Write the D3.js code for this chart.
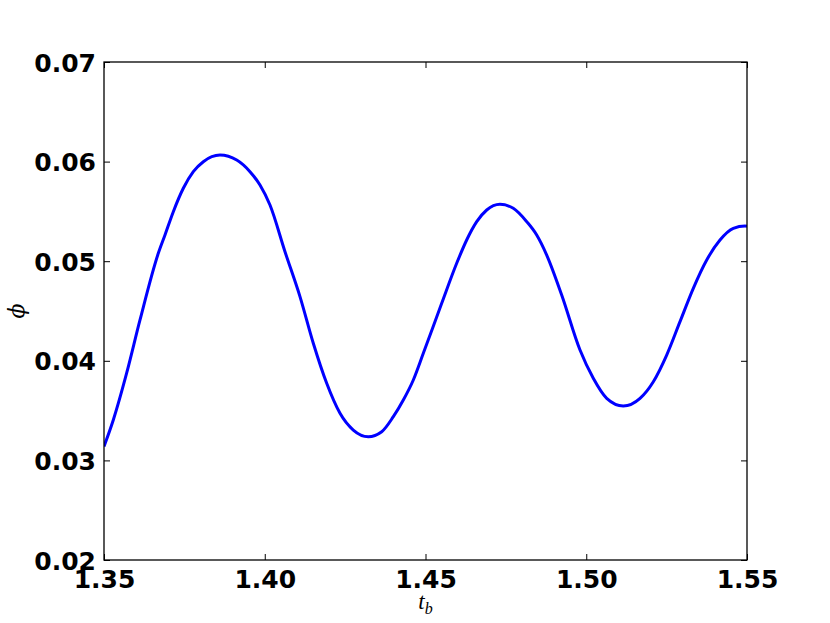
<!DOCTYPE html>
<html>
<head>
<meta charset="utf-8">
<script src="https://cdn.jsdelivr.net/npm/d3@7"></script>
<style>
  html, body { margin: 0; padding: 0; background: #fff; }
  svg { display: block; }
</style>
</head>
<body>
<svg id="chart" width="830" height="623"></svg>
<script>
// Data
const tValues = [1.35000, 1.35289, 1.35706, 1.36120, 1.36689, 1.36897, 1.37156, 1.37467, 1.37778, 1.38089,
  1.38608, 1.39128, 1.39541, 1.39852, 1.40163, 1.40630, 1.41096, 1.41510, 1.41927, 1.42341,
  1.42754, 1.43221, 1.43638, 1.43999, 1.44310, 1.44621, 1.44932, 1.45504, 1.45970, 1.46281,
  1.46593, 1.46904, 1.47317, 1.47731, 1.48148, 1.48459, 1.48770, 1.49236, 1.49806, 1.50219,
  1.50636, 1.51152, 1.51672, 1.52086, 1.52502, 1.52916, 1.53330, 1.53747, 1.54160, 1.54574,
  1.54938, 1.55000];
const phiValues = [0.03140, 0.03406, 0.03878, 0.04410, 0.05079, 0.05263, 0.05497, 0.05732, 0.05899, 0.05999,
  0.06066, 0.06016, 0.05899, 0.05765, 0.05564, 0.05095, 0.04644, 0.04176, 0.03774, 0.03473,
  0.03305, 0.03238, 0.03288, 0.03439, 0.03606, 0.03807, 0.04075, 0.04577, 0.04979, 0.05213,
  0.05397, 0.05514, 0.05571, 0.05531, 0.05397, 0.05263, 0.05062, 0.04661, 0.04108, 0.03824,
  0.03623, 0.03546, 0.03623, 0.03790, 0.04058, 0.04393, 0.04728, 0.05012, 0.05213, 0.05330,
  0.05353, 0.05350];
const xTicks = [1.35, 1.40, 1.45, 1.50, 1.55];
const yTicks = [0.02, 0.03, 0.04, 0.05, 0.06, 0.07];

const svg = d3.select("#chart");
const mLeft = 104, mRight = 747, mTop = 62, mBottom = 560;

const x = d3.scaleLinear().domain([1.35, 1.55]).range([mLeft, mRight]);
const y = d3.scaleLinear().domain([0.02, 0.07]).range([mBottom, mTop]);

const fontFam = "'DejaVu Sans', sans-serif";

// Curve
const pts = tValues.map((t, i) => [t, phiValues[i]]);
svg.append("clipPath").attr("id", "clip")
  .append("rect").attr("x", mLeft).attr("y", mTop).attr("width", mRight - mLeft).attr("height", mBottom - mTop);
svg.append("path")
  .datum(pts)
  .attr("clip-path", "url(#clip)")
  .attr("fill", "none")
  .attr("stroke", "#0000ff")
  .attr("stroke-width", 3)
  .attr("stroke-linejoin", "round")
  .attr("d", d3.line().x(d => x(d[0])).y(d => y(d[1])).curve(d3.curveMonotoneX));

// Axes with inward ticks
const tickLen = 6;
function styleAxis(g) {
  g.select(".domain").remove();
  g.selectAll(".tick line").attr("stroke", "#000").attr("stroke-width", 1);
}
const axB = svg.append("g").attr("transform", `translate(0,${mBottom})`)
  .call(d3.axisBottom(x).tickValues(xTicks).tickFormat(d3.format(".2f")).tickSizeInner(-tickLen).tickSizeOuter(0).tickPadding(10));
styleAxis(axB);
axB.selectAll("text").attr("font-family", fontFam).attr("font-weight", "bold").attr("font-size", 25).attr("fill", "#000");

const axT = svg.append("g").attr("transform", `translate(0,${mTop})`)
  .call(d3.axisTop(x).tickValues(xTicks).tickFormat("").tickSizeInner(-tickLen).tickSizeOuter(0));
styleAxis(axT);

const axL = svg.append("g").attr("transform", `translate(${mLeft},0)`)
  .call(d3.axisLeft(y).tickValues(yTicks).tickFormat(d3.format(".2f")).tickSizeInner(-tickLen).tickSizeOuter(0).tickPadding(8));
styleAxis(axL);
axL.selectAll("text").attr("font-family", fontFam).attr("font-weight", "bold").attr("font-size", 25).attr("fill", "#000").attr("dy", "0.36em");

const axR = svg.append("g").attr("transform", `translate(${mRight},0)`)
  .call(d3.axisRight(y).tickValues(yTicks).tickFormat("").tickSizeInner(-tickLen).tickSizeOuter(0));
styleAxis(axR);

// Frame
svg.append("rect")
  .attr("x", mLeft).attr("y", mTop).attr("width", mRight - mLeft).attr("height", mBottom - mTop)
  .attr("fill", "none").attr("stroke", "#000").attr("stroke-width", 1.3);

// Axis labels
const xl = svg.append("text")
  .attr("x", (mLeft + mRight) / 2).attr("y", 609)
  .attr("text-anchor", "middle")
  .attr("font-family", "'Liberation Serif', serif")
  .attr("font-style", "italic")
  .attr("font-size", 23);
xl.append("tspan").text("t");
xl.append("tspan").attr("font-size", 16).attr("dy", 5).text("b");

svg.append("text")
  .attr("transform", `translate(24,${(mTop + mBottom) / 2}) rotate(-90)`)
  .attr("text-anchor", "middle")
  .attr("font-family", "'DejaVu Serif', serif")
  .attr("font-style", "italic")
  .attr("font-size", 22)
  .text("ϕ");
</script>
</body>
</html>
